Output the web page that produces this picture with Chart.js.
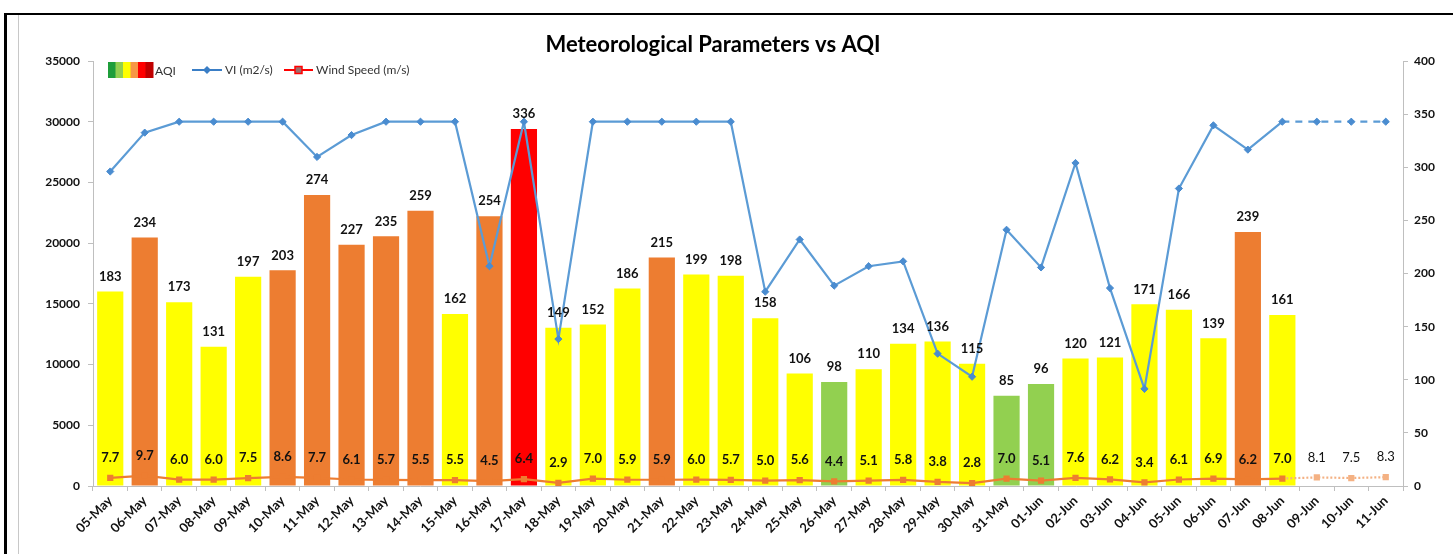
<!DOCTYPE html>
<html>
<head>
<meta charset="utf-8">
<script src="https://cdn.jsdelivr.net/npm/chart.js@4.4.1/dist/chart.umd.min.js"></script>
<style>
  html, body { margin: 0; padding: 0; background: #ffffff; }
  #wrap { width: 1453px; height: 554px; position: relative; }
</style>
</head>
<body>
<div id="wrap"><canvas id="c" width="1453" height="554"></canvas></div>
<script>
const categories = ['05-May','06-May','07-May','08-May','09-May','10-May','11-May','12-May','13-May','14-May','15-May','16-May','17-May','18-May','19-May','20-May','21-May','22-May','23-May','24-May','25-May','26-May','27-May','28-May','29-May','30-May','31-May','01-Jun','02-Jun','03-Jun','04-Jun','05-Jun','06-Jun','07-Jun','08-Jun','09-Jun','10-Jun','11-Jun'];
const aqiValues = [183,234,173,131,197,203,274,227,235,259,162,254,336,149,152,186,215,199,198,158,106,98,110,134,136,115,85,96,120,121,171,166,139,239,161,null,null,null];
const viValues = [25900,29100,30000,30000,30000,30000,27100,28900,30000,30000,30000,18100,30000,12100,30000,30000,30000,30000,30000,16000,20300,16500,18100,18500,10900,9000,21100,18000,26600,16300,8000,24500,29700,27700,30000,30000,30000,30000];
const windValues = [7.7,9.7,6.0,6.0,7.5,8.6,7.7,6.1,5.7,5.5,5.5,4.5,6.4,2.9,7.0,5.9,5.9,6.0,5.7,5.0,5.6,4.4,5.1,5.8,3.8,2.8,7.0,5.1,7.6,6.2,3.4,6.1,6.9,6.2,7.0,8.1,7.5,8.3];
const leftTicks = [0,5000,10000,15000,20000,25000,30000,35000];
const rightTicks = [0,50,100,150,200,250,300,350,400];
const forecastStart = 34; // index of 08-Jun, last observed day

const FONT = 'Lato, "Open Sans", sans-serif';

function aqiColor(v) {
  if (v == null) return 'rgba(0,0,0,0)';
  if (v <= 100) return '#92D050';
  if (v <= 200) return '#FFFF00';
  if (v <= 300) return '#ED7D31';
  return '#FF0000';
}

const framePlugin = {
  id: 'frame',
  beforeDraw(chart) {
    const ctx = chart.ctx;
    ctx.save();
    ctx.fillStyle = '#ffffff';
    ctx.fillRect(0, 0, chart.width, chart.height);
    ctx.fillStyle = '#000000';
    ctx.fillRect(4, 13, 3, chart.height - 13);
    ctx.fillRect(4, 13, chart.width - 4, 2);
    ctx.fillStyle = '#c8c8c8';
    ctx.fillRect(18, 15, 1, chart.height - 15);
    ctx.restore();
  }
};

const decorPlugin = {
  id: 'decor',
  afterDatasetsDraw(chart) {
    const ctx = chart.ctx;
    ctx.save();
    const barMeta = chart.getDatasetMeta(0);
    ctx.textAlign = 'center';
    ctx.textBaseline = 'middle';
    ctx.fillStyle = '#111111';
    ctx.font = 'bold 13px ' + FONT;
    barMeta.data.forEach((el, i) => {
      const v = aqiValues[i];
      if (v == null) return;
      ctx.fillText(String(v), el.x, el.y - 15);
    });
    const windMeta = chart.getDatasetMeta(2);
    windMeta.data.forEach((el, i) => {
      const v = windValues[i];
      if (v == null) return;
      ctx.font = (i > forecastStart ? '' : 'bold ') + '13px ' + FONT;
      ctx.fillStyle = '#111111';
      ctx.fillText(v.toFixed(1), el.x, el.y - 20);
    });
    ctx.restore();
  },
  afterDraw(chart) {
    const ctx = chart.ctx;
    ctx.save();
    ctx.fillStyle = '#000000';
    ctx.font = 'bold 22px ' + FONT;
    ctx.textAlign = 'center';
    ctx.textBaseline = 'middle';
    ctx.fillText('Meteorological Parameters vs AQI', 713, 45);
    const ly = 70;
    const sw = ['#1E9E3A', '#92D050', '#FFFF00', '#F79646', '#FF0000', '#C00000'];
    const sx = 108, swW = 7.5;
    sw.forEach((c, k) => { ctx.fillStyle = c; ctx.fillRect(sx + k * swW, ly - 8, swW + 0.5, 16); });
    ctx.font = '12px ' + FONT;
    ctx.textAlign = 'left';
    ctx.fillStyle = '#333333';
    ctx.fillText('AQI', 155, ly + 1);
    ctx.strokeStyle = '#3A7EC6';
    ctx.lineWidth = 2;
    ctx.beginPath(); ctx.moveTo(192, ly); ctx.lineTo(222, ly); ctx.stroke();
    ctx.fillStyle = '#3A7EC6';
    ctx.beginPath(); ctx.moveTo(207, ly - 4); ctx.lineTo(211, ly); ctx.lineTo(207, ly + 4); ctx.lineTo(203, ly); ctx.closePath(); ctx.fill();
    ctx.fillStyle = '#333333';
    ctx.fillText('VI (m2/s)', 225, ly);
    ctx.strokeStyle = '#FF0000';
    ctx.beginPath(); ctx.moveTo(284, ly); ctx.lineTo(313, ly); ctx.stroke();
    ctx.fillStyle = '#9E6C6C';
    ctx.fillRect(295, ly - 3.5, 7, 7);
    ctx.strokeStyle = '#FF0000';
    ctx.lineWidth = 1.5;
    ctx.strokeRect(295, ly - 3.5, 7, 7);
    ctx.fillStyle = '#333333';
    ctx.fillText('Wind Speed (m/s)', 316, ly);
    ctx.restore();
  }
};

const chart = new Chart(document.getElementById('c'), {
  type: 'bar',
  data: {
    labels: categories,
    datasets: [
      {
        type: 'bar',
        label: 'AQI',
        data: aqiValues,
        yAxisID: 'y1',
        backgroundColor: aqiValues.map(aqiColor),
        borderWidth: 0,
        categoryPercentage: 1.0,
        barPercentage: 0.76,
        order: 3
      },
      {
        type: 'line',
        label: 'VI (m2/s)',
        data: viValues,
        yAxisID: 'y',
        borderColor: '#5B9BD5',
        backgroundColor: '#5B9BD5',
        borderWidth: 2.2,
        pointStyle: 'rectRot',
        pointRadius: 3.6,
        pointBackgroundColor: '#4A8CD0',
        pointBorderColor: '#4A8CD0',
        pointBorderWidth: 1,
        tension: 0,
        fill: false,
        segment: {
          borderDash: ctx => ctx.p0DataIndex >= forecastStart ? [7, 6] : undefined
        },
        order: 1
      },
      {
        type: 'line',
        label: 'Wind Speed (m/s)',
        data: windValues,
        yAxisID: 'y1',
        borderColor: '#ED7D31',
        backgroundColor: '#ED7D31',
        borderWidth: 2.2,
        pointStyle: 'rect',
        pointRadius: 4.4,
        pointBackgroundColor: windValues.map((v, i) => i > forecastStart ? '#F4B183' : '#ED7D31'),
        pointBorderColor: windValues.map((v, i) => i > forecastStart ? '#F4B183' : '#ED7D31'),
        pointBorderWidth: 0,
        tension: 0,
        fill: false,
        segment: {
          borderDash: ctx => ctx.p0DataIndex >= forecastStart ? [2, 2] : undefined,
          borderColor: ctx => ctx.p0DataIndex >= forecastStart ? '#F4B183' : undefined
        },
        order: 2
      }
    ]
  },
  options: {
    responsive: false,
    animation: false,
    devicePixelRatio: 1,
    layout: { padding: { left: 20, right: 0, top: 61, bottom: 0 } },
    plugins: {
      legend: { display: false },
      title: { display: false },
      tooltip: { enabled: false }
    },
    scales: {
      x: {
        offset: true,
        grid: { display: true, drawOnChartArea: false, drawTicks: true, tickLength: 5, color: '#bfbfbf', offset: true },
        border: { display: true, color: '#bfbfbf', width: 1 },
        ticks: {
          autoSkip: false,
          maxRotation: 45,
          minRotation: 45,
          padding: 2,
          color: '#111111',
          font: { family: FONT, size: 13, weight: 'bold' }
        },
        afterFit(scale) { scale.height = 68; }
      },
      y: {
        position: 'left',
        min: 0,
        max: 35000,
        afterBuildTicks(scale) { scale.ticks = leftTicks.map(v => ({ value: v })); },
        grid: { display: true, drawOnChartArea: false, drawTicks: true, tickLength: 5, color: '#bfbfbf' },
        border: { display: true, color: '#bfbfbf', width: 1 },
        ticks: {
          padding: 8,
          color: '#111111',
          font: { family: FONT, size: 12, weight: 'bold' },
          callback: v => String(v)
        },
        afterFit(scale) { scale.width = 73; }
      },
      y1: {
        position: 'right',
        min: 0,
        max: 400,
        afterBuildTicks(scale) { scale.ticks = rightTicks.map(v => ({ value: v })); },
        grid: { display: true, drawOnChartArea: false, drawTicks: true, tickLength: 5, color: '#bfbfbf' },
        border: { display: true, color: '#bfbfbf', width: 1 },
        ticks: {
          padding: 6,
          color: '#111111',
          font: { family: FONT, size: 12, weight: 'bold' },
          callback: v => String(v)
        },
        afterFit(scale) { scale.width = 50; }
      }
    }
  },
  plugins: [framePlugin, decorPlugin]
});
</script>
</body>
</html>
